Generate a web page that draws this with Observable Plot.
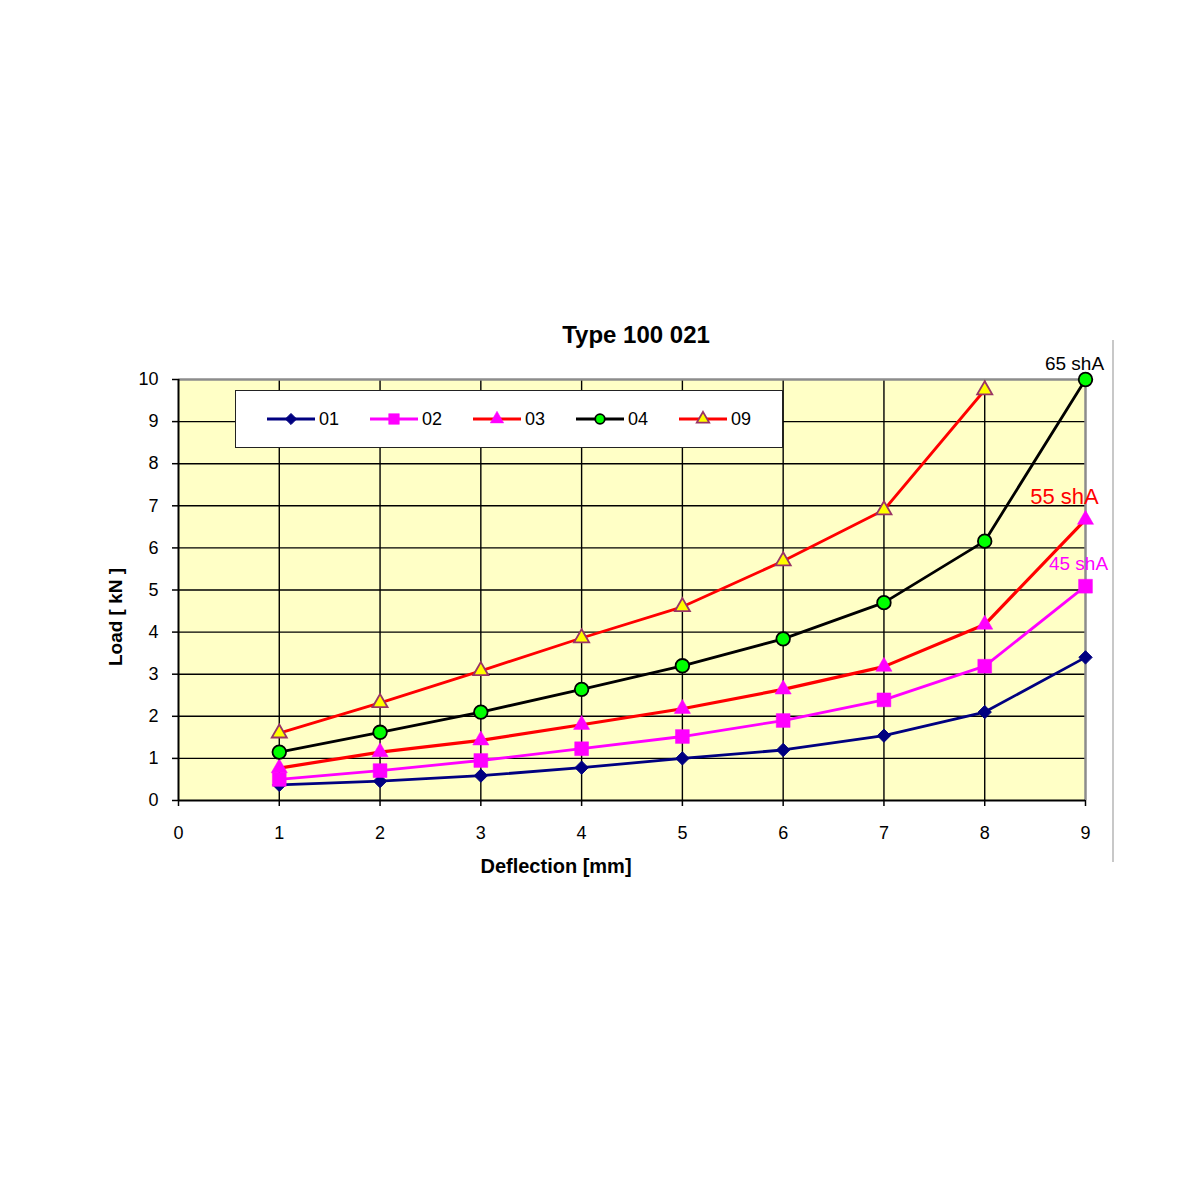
<!DOCTYPE html>
<html><head><meta charset="utf-8">
<script src="https://cdn.jsdelivr.net/npm/d3@7"></script>
<script src="https://cdn.jsdelivr.net/npm/@observablehq/plot@0.6"></script>
<style>
body{margin:0;background:#fff;font-family:"Liberation Sans",Arial,sans-serif}
#wrap{position:relative;width:1200px;height:1200px}
#legend{position:absolute;left:235px;top:390px;width:548px;height:58px;border:1.5px solid #222;background:#fff;display:flex;align-items:center;box-sizing:border-box;padding-left:31px}
.item{display:flex;align-items:center;width:104.5px;font-size:18px;color:#000}
.item svg{margin-right:4px;overflow:visible}
#edge{position:absolute;left:1112px;top:340px;width:1.5px;height:522px;background:#c8c8c8}
</style></head><body><div id="wrap"></div>
<script>
// ---- data ----
const deflection = [1, 2, 3, 4, 5, 6, 7, 8, 9];
const load01 = [0.37, 0.46, 0.59, 0.78, 1.00, 1.20, 1.54, 2.10, 3.40];
const load02 = [0.50, 0.71, 0.95, 1.23, 1.52, 1.90, 2.39, 3.19, 5.09];
const load03 = [0.77, 1.15, 1.43, 1.80, 2.18, 2.64, 3.18, 4.18, 6.67];
const load04 = [1.15, 1.62, 2.10, 2.64, 3.20, 3.84, 4.70, 6.16, 10.00];
const load09 = [1.60, 2.32, 3.08, 3.86, 4.60, 5.69, 6.90, 9.75];
const seriesNames = ["01", "02", "03", "04", "09"];
const xTicks = [0, 1, 2, 3, 4, 5, 6, 7, 8, 9];
const yTicks = [0, 1, 2, 3, 4, 5, 6, 7, 8, 9, 10];
const annotationTexts = ["65 shA", "55 shA", "45 shA"];
const annotationSeries = ["04", "03", "02"];
const titleText = "Type 100 021";
const xLabel = "Deflection [mm]";
const yLabel = "Load [ kN ]";

// ---- styles ----
const styles = {
  "01": {line: "#000080", symbol: "diamond2", fill: "#000080", stroke: "#000080", sw: 1, r: 6.0, lr: 5.0},
  "02": {line: "#FF00FF", symbol: "square", fill: "#FF00FF", stroke: "#FF00FF", sw: 0.5, r: 7.8, lr: 6.0},
  "03": {line: "#FF0000", symbol: "triangle", fill: "#FF00FF", stroke: "#FF00FF", sw: 0.5, r: 6.0, lr: 5.0},
  "04": {line: "#000000", symbol: "circle", fill: "#00FF00", stroke: "#000000", sw: 1.8, r: 6.8, lr: 4.8},
  "09": {line: "#FF0000", symbol: "triangle", fill: "#FFFF00", stroke: "#993366", sw: 1.8, r: 5.6, lr: 4.6}
};
const annStyle = {
  "65 shA": {fill: "#000", fontSize: 19, dx: -11, dy: -16},
  "55 shA": {fill: "#FF0000", fontSize: 22, dx: -21, dy: -23},
  "45 shA": {fill: "#FF00FF", fontSize: 19, dx: -7, dy: -22}
};

const loads = [load01, load02, load03, load04, load09];
const rows = [];
seriesNames.forEach((s, i) => loads[i].forEach((v, j) => rows.push({series: s, x: deflection[j], y: v})));
const annotations = annotationTexts.map((t, i) => {
  const pts = rows.filter(d => d.series === annotationSeries[i]);
  const p = pts[pts.length - 1];
  return {text: t, x: p.x, y: p.y};
});

const seriesMarks = seriesNames.flatMap(s => {
  const st = styles[s];
  const data = rows.filter(d => d.series === s);
  return [
    Plot.line(data, {x: "x", y: "y", stroke: st.line, strokeWidth: s === "03" ? 3.2 : 2.8}),
    Plot.dot(data, {x: "x", y: "y", symbol: () => st.symbol, r: st.r, fill: st.fill, stroke: st.stroke, strokeWidth: st.sw})
  ];
});
const annotationMarks = annotations.map(a => {
  const st = annStyle[a.text];
  return Plot.text([a], {x: "x", y: "y", text: "text", fill: st.fill, fontSize: st.fontSize, dx: st.dx, dy: st.dy});
});

const chart = Plot.plot({
  width: 1200,
  height: 1200,
  marginLeft: 178,
  marginRight: 115,
  marginTop: 379,
  marginBottom: 400,
  style: {fontFamily: "'Liberation Sans', Arial, sans-serif", background: "transparent", color: "#000", overflow: "visible"},
  x: {domain: [0, 9]},
  y: {domain: [0, 10]},
  symbol: {type: "identity"},
  marks: [
    Plot.frame({fill: "#FFFFC6", stroke: null}),
    Plot.ruleY(yTicks.filter(d => d > 0 && d < 10), {stroke: "#000", strokeWidth: 1.4}),
    Plot.ruleX(xTicks.filter(d => d > 0 && d < 9), {stroke: "#000", strokeWidth: 1.4}),
    Plot.ruleY([10], {stroke: "#8c8c8c", strokeWidth: 2.5}),
    Plot.ruleX([9], {stroke: "#8c8c8c", strokeWidth: 2.5}),
    Plot.ruleX([0], {stroke: "#000", strokeWidth: 2}),
    Plot.ruleY([0], {stroke: "#000", strokeWidth: 2}),
    Plot.axisX({ticks: xTicks, tickSize: 6, tickPadding: 20, fontSize: 18, strokeWidth: 1.5, label: null, tickFormat: d => String(d)}),
    Plot.axisY({ticks: yTicks, tickSize: 6, tickPadding: 14, fontSize: 18, strokeWidth: 1.5, label: null, tickFormat: d => String(d)}),
    ...seriesMarks,
    ...annotationMarks,
    Plot.text([titleText], {frameAnchor: "top", lineAnchor: "middle", text: d => d, dx: 4, dy: -44, fontSize: 24, fontWeight: "bold"}),
    Plot.text([xLabel], {frameAnchor: "bottom", lineAnchor: "middle", text: d => d, dx: -76, dy: 66, fontSize: 20, fontWeight: "bold"}),
    Plot.text([yLabel], {frameAnchor: "left", textAnchor: "middle", lineAnchor: "middle", rotate: -90, text: d => d, dx: -63, dy: 27, fontSize: 19, fontWeight: "bold"})
  ]
});
document.getElementById("wrap").appendChild(chart);

// legend
const symTypes = {diamond2: d3.symbolDiamond2, square: d3.symbolSquare, triangle: d3.symbolTriangle, circle: d3.symbolCircle};
const legend = document.createElement("div");
legend.id = "legend";
seriesNames.forEach(s => {
  const st = styles[s];
  const item = document.createElement("div");
  item.className = "item";
  const path = d3.symbol(symTypes[st.symbol], Math.PI * st.lr * st.lr)();
  item.innerHTML = `<svg width="48" height="20"><line x1="0" x2="48" y1="10" y2="10" stroke="${st.line}" stroke-width="2.8"/>` +
    `<path transform="translate(24,10)" d="${path}" fill="${st.fill}" stroke="${st.stroke}" stroke-width="${st.sw}"/></svg><span>${s}</span>`;
  legend.appendChild(item);
});
document.getElementById("wrap").appendChild(legend);
const edge = document.createElement("div");
edge.id = "edge";
document.getElementById("wrap").appendChild(edge);
</script></body></html>
